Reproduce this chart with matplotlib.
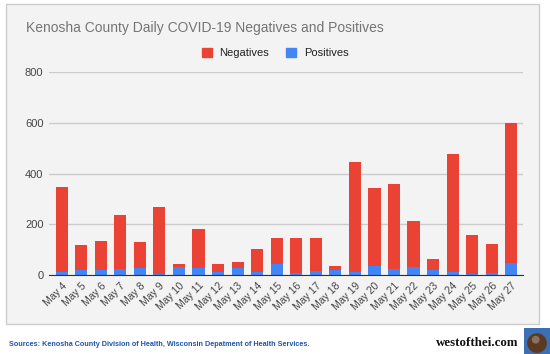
import matplotlib.pyplot as plt
from matplotlib.patches import Patch, Rectangle, Circle

dates = ['May 4', 'May 5', 'May 6', 'May 7', 'May 8', 'May 9', 'May 10', 'May 11',
         'May 12', 'May 13', 'May 14', 'May 15', 'May 16', 'May 17', 'May 18', 'May 19',
         'May 20', 'May 21', 'May 22', 'May 23', 'May 24', 'May 25', 'May 26', 'May 27']
positives = [13, 20, 20, 25, 27, 3, 31, 27, 10, 27, 10, 43,
             8, 17, 19, 10, 34, 25, 30, 20, 13, 4, 8, 49]
negatives = [332, 100, 115, 210, 104, 266, 12, 155, 33, 26, 91, 101,
             136, 127, 15, 435, 309, 335, 182, 44, 463, 153, 116, 551]
yticks = [0, 200, 400, 600, 800]

red = '#ea4335'
blue = '#4285f4'
font = ['Liberation Sans', 'DejaVu Sans']

fig = plt.figure(figsize=(5.5, 3.54), dpi=100)
fig.patch.set_facecolor('white')

# gray panel behind the chart
panel = Rectangle((6/550, 1-324/354), 533/550, 320/354, transform=fig.transFigure,
                  facecolor='#f3f3f3', edgecolor='#cccccc', lw=1, zorder=-2)
fig.patches.append(panel)

ax = fig.add_axes([49/550, 1-275/354, 474/550, 203/354])
ax.set_zorder(1)
ax.set_facecolor('none')
x = range(len(dates))
ax.bar(x, positives, width=0.62, color=blue, zorder=3)
ax.bar(x, negatives, width=0.62, bottom=positives, color=red, zorder=3)

ax.set_xlim(-0.65, 23.6)
ax.set_ylim(0, 800)
ax.set_yticks(yticks)
ax.set_yticklabels([str(v) for v in yticks], fontsize=8, color='#444444', family=font)
ax.set_xticks(list(x))
ax.set_xticklabels(dates, rotation=45, ha='right', rotation_mode='anchor',
                   fontsize=7.5, color='#444444', family=font)
ax.tick_params(length=0, pad=4)
ax.grid(axis='y', color='#cccccc', lw=1, zorder=0)
for s in ['top', 'right', 'left']:
    ax.spines[s].set_visible(False)
ax.spines['bottom'].set_color('#333333')
ax.spines['bottom'].set_zorder(4)

fig.text(26/550, 1-28/354, 'Kenosha County Daily COVID-19 Negatives and Positives',
         fontsize=10, color='#757575', va='center', ha='left', family=font)

handles = [Patch(color=red, label='Negatives'), Patch(color=blue, label='Positives')]
leg = fig.legend(handles=handles, loc='center', bbox_to_anchor=(0.5, 1-53/354), ncol=2,
                 frameon=False, handlelength=0.9, handleheight=0.9,
                 handletextpad=0.7, columnspacing=1.5, prop={'family': font, 'size': 8})
for t in leg.get_texts():
    t.set_color('#222222')

fig.text(9/550, 1-345/354,
         'Sources: Kenosha County Division of Health, Wisconsin Depatment of Health Services.',
         fontsize=5.2, color='#1f55a8', weight='bold', va='center', ha='left', family=font)
fig.text(518/550, 1-343/354, 'westofthei.com', fontsize=9.3, weight='bold', color='#111111',
         va='center', ha='right', family=['Liberation Serif', 'DejaVu Serif'])

# little logo square
lax = fig.add_axes([524/550, 0, 26/550, 26/354])
lax.set_xlim(0, 1)
lax.set_ylim(0, 1)
lax.set_facecolor('#3d6fb5')
lax.set_xticks([])
lax.set_yticks([])
for s in lax.spines.values():
    s.set_visible(False)
lax.add_patch(Circle((0.5, 0.42), 0.38, facecolor='#5b3a22', edgecolor='none'))
lax.add_patch(Circle((0.45, 0.55), 0.15, facecolor='#9a8a80', edgecolor='none', alpha=0.7))

plt.savefig('out.png', dpi=100)
